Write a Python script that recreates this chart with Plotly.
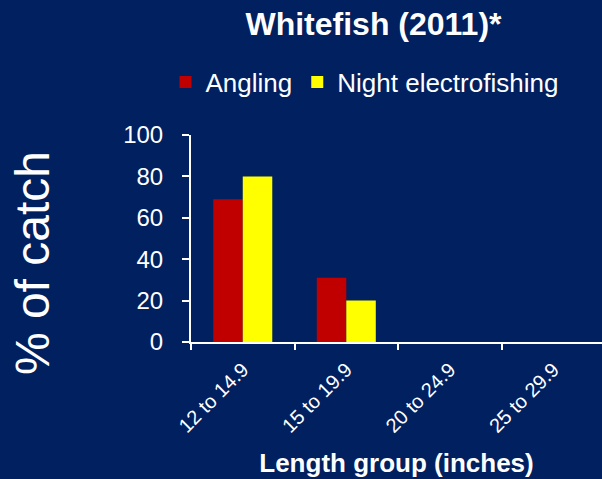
import plotly.graph_objects as go

categories = ["12 to 14.9", "15 to 19.9", "20 to 24.9", "25 to 29.9"]
angling = [69, 31, 0, 0]
night_electrofishing = [80, 20, 0, 0]
y_ticks = [0, 20, 40, 60, 80, 100]

BG = "#002060"
FONT = "Liberation Sans, Arial, sans-serif"

fig = go.Figure()
fig.add_trace(go.Bar(x=categories, y=angling, name="Angling",
                     marker=dict(color="#C00000", line=dict(width=0))))
fig.add_trace(go.Bar(x=categories, y=night_electrofishing, name="Night electrofishing",
                     marker=dict(color="#FFFF00", line=dict(width=0))))

fig.update_layout(
    width=602, height=479,
    paper_bgcolor=BG, plot_bgcolor=BG,
    margin=dict(l=191, r=0, t=135, b=137),
    barmode="group", bargap=0.43, bargroupgap=0,
    font=dict(family=FONT, color="white"),
    title=dict(text="<b>Whitefish (2011)*</b>", font=dict(size=32, color="white"),
               x=0.6204, xanchor="center", y=0.95, yanchor="middle"),
    legend=dict(orientation="h", x=-0.062, xanchor="left", y=1.256, yanchor="middle",
                font=dict(size=26, color="white"), bgcolor="rgba(0,0,0,0)",
                itemwidth=30, traceorder="normal"),
    showlegend=True,
    annotations=[dict(text="% of catch", textangle=-90, showarrow=False,
                      xref="paper", yref="paper", x=-0.385, y=0.38,
                      xanchor="center", yanchor="middle",
                      font=dict(size=48, color="white"))],
)
fig.update_xaxes(
    type="category", range=[-0.5, 3.47],
    showline=True, linecolor="white", linewidth=2,
    ticks="outside", tickson="boundaries", ticklen=6, tickwidth=2, tickcolor="white",
    tickangle=-45, tickfont=dict(size=20, color="white"), ticklabelstandoff=6,
    showgrid=False, zeroline=False,
    title=dict(text="<b>Length group (inches)</b>", font=dict(size=26, color="white"), standoff=18),
)
fig.update_yaxes(
    range=[0, 100], tickvals=y_ticks,
    showline=True, linecolor="white", linewidth=2,
    ticks="outside", ticklen=7, tickwidth=2, tickcolor="white",
    tickfont=dict(size=24, color="white"), ticklabelstandoff=14,
    showgrid=False, zeroline=False,
)

fig.write_html("out.html", config={"displayModeBar": False},
               post_script="document.body.style.margin='0';")
